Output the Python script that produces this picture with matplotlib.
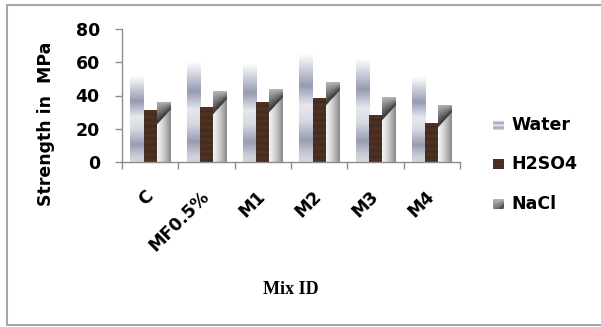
import numpy as np
import matplotlib
matplotlib.use("Agg")
import matplotlib.pyplot as plt
from matplotlib.colors import to_rgb
from matplotlib.lines import Line2D

mixes = ["C", "MF0.5%", "M1", "M2", "M3", "M4"]
water = [52.3, 60.7, 59.5, 65.5, 62.0, 51.7]
h2so4 = [31.3, 32.9, 36.3, 38.7, 28.1, 23.6]
nacl = [36.3, 42.7, 43.7, 48.0, 38.9, 34.5]
series_names = ["Water", "H2SO4", "NaCl"]

W, H = 601, 327
GREY = "#8c8c8c"


def ramp(stops, colors, t):
    rgb = np.array([to_rgb(c) for c in colors])
    return np.stack([np.interp(t, stops, rgb[:, k]) for k in range(3)], axis=-1)


def water_img(ny=150):
    s = np.linspace(0, 1, ny)  # 0 = top of bar
    col = ramp([0, 0.07, 0.3, 0.48, 0.62, 0.8, 0.93, 1],
               ["#ffffff", "#e8eaef", "#959bb1", "#e6e8ed", "#d8dae2",
                "#979db2", "#caccd7", "#d6d8e0"], s)
    return np.repeat(col[:, None, :], 2, axis=1)


def acid_img(h, ny=150):
    d = np.linspace(0, h, ny)
    f = 1 + 0.08 * np.sin(d * 1.7) + 0.04 * np.sin(d * 4.3)
    col = np.clip(np.array(to_rgb("#4a2f22"))[None, :] * f[:, None], 0, 1)
    return np.repeat(col[:, None, :], 2, axis=1)


def salt_img(h, nx=40, ny=200):
    u = np.linspace(0, 1, nx)[None, :]
    d = np.linspace(0, h, ny)[:, None]
    edge = 4.8 + 9.0 * (1 - u)
    light = ramp([0, 0.45, 1], ["#f6f6f6", "#d0d0d0", "#8a8a8a"], u)
    dark = ramp([0, 0.6, 1], ["#b8b8b8", "#6a6a6a", "#2c2c2c"],
                np.clip(d / edge, 0, 1))
    return np.where((d < edge)[..., None], dark, light)


fig = plt.figure(figsize=(W / 100, H / 100), dpi=100)
ax = fig.add_axes([122 / W, 1 - 162 / H, 338 / W, 133 / H])

x = np.arange(len(mixes))
w = 0.235


def fill_bars(bars, make_img):
    for b in bars:
        x0, x1 = b.get_x(), b.get_x() + b.get_width()
        h = b.get_height()
        im = ax.imshow(make_img(h), extent=[x0, x1, 0, h], aspect="auto",
                       origin="upper", interpolation="bilinear", zorder=2)
        im.set_clip_path(b)


b1 = ax.bar(x - w, water, w, facecolor="none", edgecolor="none")
b2 = ax.bar(x, h2so4, w, facecolor="none", edgecolor="none")
b3 = ax.bar(x + w, nacl, w, facecolor="none", edgecolor="none")
fill_bars(b1, lambda h: water_img())
fill_bars(b2, acid_img)
fill_bars(b3, salt_img)

ax.set_xlim(-0.5, len(mixes) - 0.5)
ax.set_ylim(0, 80)
ax.set_yticks([0, 20, 40, 60, 80])
ax.set_xticks(x)
ax.set_xticks(np.arange(len(mixes) + 1) - 0.5, minor=True)
ax.set_xticklabels(mixes, rotation=45, ha="right", va="center",
                   rotation_mode="anchor", fontsize=12.5, fontweight="bold")
for lab in ax.get_yticklabels():
    lab.set_fontsize(12.5)
    lab.set_fontweight("bold")
ax.tick_params(axis="y", length=5, width=1, color=GREY, pad=11)
ax.tick_params(axis="x", which="major", length=0, pad=23)
ax.tick_params(axis="x", which="minor", length=5, width=1, color=GREY)
for side in ["top", "right"]:
    ax.spines[side].set_visible(False)
for side in ["left", "bottom"]:
    ax.spines[side].set_color(GREY)
    ax.spines[side].set_linewidth(1)

fig.text(46 / W, 1 - 124 / H, "Strength in  MPa", rotation=90, ha="center",
         va="center", fontsize=12.5, fontweight="bold")
fig.text(291 / W, 1 - 290 / H, "Mix ID", ha="center", va="center",
         fontsize=13, fontweight="bold", family="Liberation Serif")

# legend: gradient swatches + labels
swatches = [water_img(20), acid_img(10, 20), salt_img(6, 20, 20)]
centers = [125, 164, 204]
for name, img, cy in zip(series_names, swatches, centers):
    sax = fig.add_axes([493 / W, 1 - (cy + 5) / H, 11 / W, 10 / H])
    sax.imshow(img, aspect="auto", interpolation="bilinear")
    sax.axis("off")
    fig.text(511 / W, 1 - cy / H, name, ha="left", va="center",
             fontsize=12.5, fontweight="bold")

# chart border, open on the right side
fig.add_artist(Line2D([W + 10, 7, 7, W + 10], [H - 5, H - 5, H - 325, H - 325],
                      transform=None, color="#a6a6a6", linewidth=1.5))

fig.savefig("out.png", dpi=100)
